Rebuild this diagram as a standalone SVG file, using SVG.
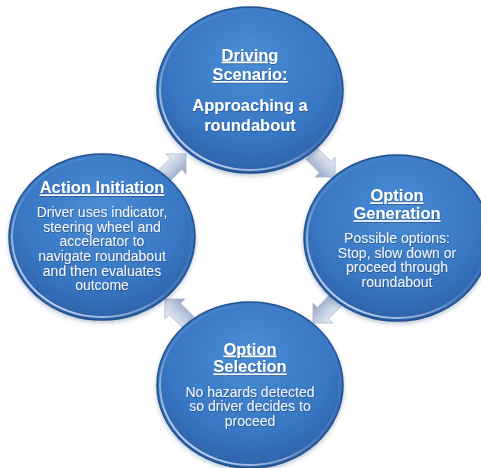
<svg xmlns="http://www.w3.org/2000/svg" width="481" height="468" viewBox="0 0 481 468">
<defs>
  <radialGradient id="ballFill" cx="0.5" cy="0.38" r="0.62" fx="0.5" fy="0.3">
    <stop offset="0" stop-color="#498dd6"/>
    <stop offset="0.7" stop-color="#3877c3"/>
    <stop offset="1" stop-color="#2d62aa"/>
  </radialGradient>
  <linearGradient id="rim" x1="0.85" y1="0.1" x2="0.2" y2="0.95">
    <stop offset="0" stop-color="#ffffff" stop-opacity="0"/>
    <stop offset="0.55" stop-color="#ffffff" stop-opacity="0.12"/>
    <stop offset="1" stop-color="#e8f0ff" stop-opacity="0.8"/>
  </linearGradient>
  <linearGradient id="arrowFill" x1="0" y1="0" x2="0" y2="1">
    <stop offset="0" stop-color="#eef1f7"/>
    <stop offset="0.5" stop-color="#c3cde0"/>
    <stop offset="1" stop-color="#8e9fc2"/>
  </linearGradient>
  <filter id="shadow" x="-10%" y="-10%" width="120%" height="125%">
    <feDropShadow dx="0" dy="2" stdDeviation="2" flood-color="#1b3d70" flood-opacity="0.3"/>
  </filter>
  <filter id="tshadow" x="-5%" y="-20%" width="110%" height="140%">
    <feDropShadow dx="0.6" dy="0.8" stdDeviation="0.5" flood-color="#102a50" flood-opacity="0.5"/>
  </filter>
  <path id="arrow" d="M-16,-8 L3,-8 L3,-14 L17,0 L3,14 L3,8 L-16,8 Z"/>
</defs>
<style>
  .ball { fill: url(#ballFill); stroke: #24518e; stroke-width: 1.5; filter: url(#shadow); }
  .rim { fill: none; stroke: url(#rim); stroke-width: 2; }
  .title { font-family: "Liberation Sans", Arial, sans-serif; font-weight: bold; font-size: 16.5px; fill: #ffffff; text-anchor: middle; text-decoration: underline; filter: url(#tshadow); }
  .body { font-family: "Liberation Sans", Arial, sans-serif; font-size: 14px; fill: #f3f5f9; text-anchor: middle; filter: url(#tshadow); }
  .bodyb { font-family: "Liberation Sans", Arial, sans-serif; font-weight: bold; font-size: 16.5px; fill: #ffffff; text-anchor: middle; filter: url(#tshadow); }
  .arr { fill: url(#arrowFill); stroke: #a9b6cf; stroke-width: 0.8; }
</style>
<rect width="481" height="468" fill="#ffffff"/>

<g id="connectors">
  <use href="#arrow" class="arr" transform="translate(174,166) rotate(-45)"/>
  <use href="#arrow" class="arr" transform="translate(323,165) rotate(45)"/>
  <use href="#arrow" class="arr" transform="translate(325,311) rotate(135)"/>
  <use href="#arrow" class="arr" transform="translate(177,311) rotate(-135)"/>
</g>

<g id="node-driving-scenario">
  <ellipse class="ball" cx="250" cy="90" rx="93" ry="83"/>
  <ellipse class="rim" cx="250" cy="90" rx="90" ry="80"/>
  <text class="title" x="250" y="60.5">Driving</text>
  <text class="title" x="250" y="80">Scenario:</text>
  <text class="bodyb" x="250" y="111">Approaching a</text>
  <text class="bodyb" x="250" y="131">roundabout</text>
</g>

<g id="node-option-generation">
  <ellipse class="ball" cx="397" cy="238" rx="93" ry="83"/>
  <ellipse class="rim" cx="397" cy="238" rx="90" ry="80"/>
  <text class="title" x="397" y="201.3">Option</text>
  <text class="title" x="397" y="219.2">Generation</text>
  <text class="body" x="397" y="242.5">Possible options:</text>
  <text class="body" x="397" y="257.5">Stop, slow down or</text>
  <text class="body" x="397" y="272">proceed through</text>
  <text class="body" x="397" y="287">roundabout</text>
</g>

<g id="node-option-selection">
  <ellipse class="ball" cx="250" cy="385" rx="93" ry="83"/>
  <ellipse class="rim" cx="250" cy="385" rx="90" ry="80"/>
  <text class="title" x="250" y="354.5">Option</text>
  <text class="title" x="250" y="372.4">Selection</text>
  <text class="body" x="250" y="396.5">No hazards detected</text>
  <text class="body" x="250" y="411">so driver decides to</text>
  <text class="body" x="250" y="425.5">proceed</text>
</g>

<g id="node-action-initiation">
  <ellipse class="ball" cx="102" cy="237" rx="93" ry="83"/>
  <ellipse class="rim" cx="102" cy="237" rx="90" ry="80"/>
  <text class="title" x="102" y="193.3">Action Initiation</text>
  <text class="body" x="102" y="217.3">Driver uses indicator,</text>
  <text class="body" x="102" y="231.8">steering wheel and</text>
  <text class="body" x="102" y="246.3">accelerator to</text>
  <text class="body" x="102" y="260.8">navigate roundabout</text>
  <text class="body" x="102" y="275.5">and then evaluates</text>
  <text class="body" x="102" y="290">outcome</text>
</g>
</svg>
